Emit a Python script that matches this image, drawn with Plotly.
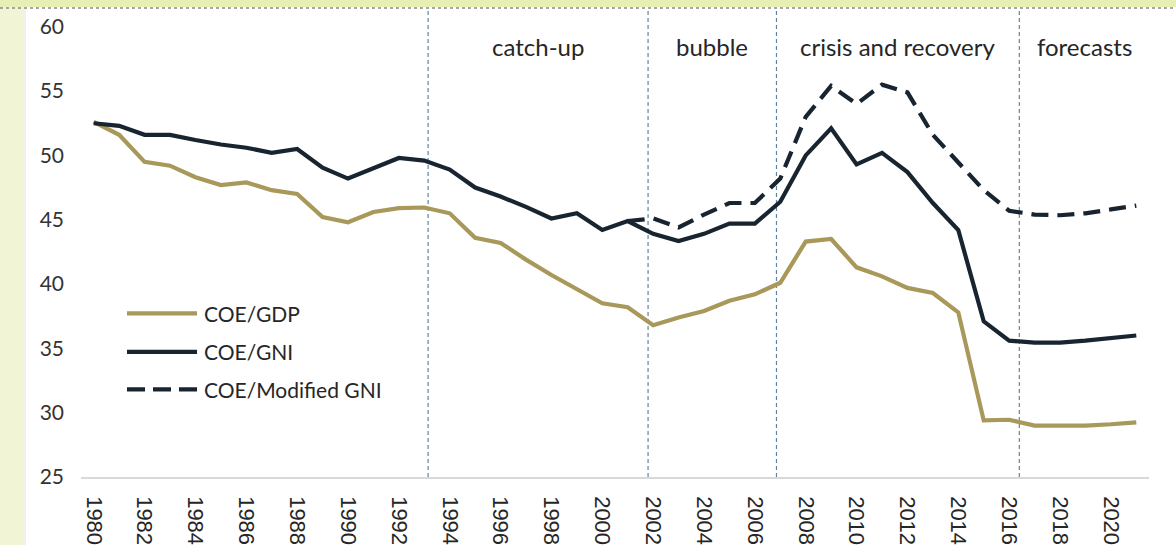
import plotly.graph_objects as go

# ---- data -------------------------------------------------------------
years = list(range(1980, 2022))

coe_gdp = [52.6, 51.6, 49.5, 49.2, 48.3, 47.7, 47.9, 47.3, 47.0, 45.2,
           44.8, 45.6, 45.9, 45.95, 45.5, 43.6, 43.2, 41.9, 40.7, 39.6,
           38.5, 38.2, 36.8, 37.4, 37.9, 38.7, 39.2, 40.1, 43.3, 43.5,
           41.3, 40.6, 39.7, 39.3, 37.8, 29.4, 29.45, 29.0, 29.0, 29.0,
           29.1, 29.25]

coe_gni = [52.5, 52.3, 51.6, 51.6, 51.2, 50.85, 50.6, 50.2, 50.5, 49.05,
           48.2, 49.0, 49.8, 49.6, 48.9, 47.5, 46.8, 46.0, 45.1, 45.5,
           44.2, 44.9, 43.9, 43.35, 43.9, 44.7, 44.7, 46.4, 50.0, 52.1,
           49.3, 50.2, 48.7, 46.3, 44.2, 37.1, 35.6, 35.45, 35.45, 35.6,
           35.8, 36.0]

years_mod = list(range(2001, 2022))
coe_mod_gni = [44.9, 45.1, 44.4, 45.4, 46.3, 46.3, 48.2, 53.0, 55.4, 54.0,
               55.5, 54.9, 51.6, 49.5, 47.3, 45.7, 45.4, 45.35, 45.5, 45.8,
               46.1]

series_names = ["COE/GDP", "COE/GNI", "COE/Modified GNI"]

period_bounds = [1993.15, 2001.8, 2006.85, 2016.4]
period_labels = ["catch-up", "bubble", "crisis and recovery", "forecasts"]

y_ticks = [25, 30, 35, 40, 45, 50, 55, 60]
x_ticks = list(range(1980, 2021, 2))

# ---- styling ----------------------------------------------------------
W, H = 1176, 553
M_L, M_R, M_T, M_B = 81, 27, 8, 69
X_RANGE = [1979.5, 2021.5]
Y_RANGE = [25, 61.46]

GDP_COLOR = "#a8985a"
GNI_COLOR = "#18242f"
PERIOD_COLOR = "#5f84a3"
LW = 4.2
DASH = "17px,9px"


def px_x(p):
    return (p - M_L) / (W - M_L - M_R)


def px_y(p):
    return (H - M_B - p) / (H - M_T - M_B)


fig = go.Figure()
fig.add_trace(go.Scatter(x=years, y=coe_gdp, mode="lines", name=series_names[0],
                         line=dict(color=GDP_COLOR, width=LW)))
fig.add_trace(go.Scatter(x=years, y=coe_gni, mode="lines", name=series_names[1],
                         line=dict(color=GNI_COLOR, width=LW)))
fig.add_trace(go.Scatter(x=years_mod, y=coe_mod_gni, mode="lines", name=series_names[2],
                         line=dict(color=GNI_COLOR, width=LW, dash=DASH)))

shapes = []
annotations = []

# period separators
for b in period_bounds:
    shapes.append(dict(type="line", xref="x", yref="y domain", x0=b, x1=b, y0=0, y1=1,
                       line=dict(color=PERIOD_COLOR, width=1.2, dash="4px,3px"), layer="below"))

# period titles centred between separators
edges = period_bounds + [X_RANGE[1]]
for i, lab in enumerate(period_labels):
    xc = (edges[i] + edges[i + 1]) / 2
    annotations.append(dict(x=xc, xref="x", y=px_y(47), yref="paper", text=lab,
                            showarrow=False, xanchor="center", yanchor="middle",
                            font=dict(family="Lato", size=24, color="#262626")))

# hand-placed legend
legend_rows = [318, 357, 395]
legend_styles = [dict(color=GDP_COLOR, width=LW), dict(color=GNI_COLOR, width=LW),
                 dict(color=GNI_COLOR, width=LW, dash="18px,8px")]
for name, row, st in zip(series_names, legend_rows, legend_styles):
    shapes.append(dict(type="line", xref="paper", yref="paper",
                       x0=px_x(127), x1=px_x(197), y0=px_y(row), y1=px_y(row), line=st))
    annotations.append(dict(x=px_x(202), xref="paper", y=px_y(row), yref="paper", text=name,
                            showarrow=False, xanchor="left", yanchor="middle",
                            font=dict(family="Lato", size=21, color="#262626")))

# page tint along the top and left edges, and the dotted rule under it
shapes.append(dict(type="rect", xref="paper", yref="paper", x0=px_x(0), x1=px_x(W),
                   y0=px_y(0), y1=px_y(7), fillcolor="#e8efb4", line=dict(width=0), layer="below"))
shapes.append(dict(type="rect", xref="paper", yref="paper", x0=px_x(0), x1=px_x(24),
                   y0=px_y(7), y1=px_y(H), fillcolor="#f1f5d6", line=dict(width=0), layer="below"))
shapes.append(dict(type="line", xref="paper", yref="paper", x0=px_x(25), x1=px_x(25),
                   y0=px_y(8), y1=px_y(H), line=dict(color="#e2e2e2", width=1)))
shapes.append(dict(type="line", xref="paper", yref="paper", x0=px_x(0), x1=px_x(W),
                   y0=px_y(8), y1=px_y(8), line=dict(color="#8a8a8a", width=1.5, dash="dot")))

fig.update_layout(
    width=W, height=H,
    margin=dict(l=M_L, r=M_R, t=M_T, b=M_B),
    paper_bgcolor="white", plot_bgcolor="white",
    showlegend=False,
    shapes=shapes, annotations=annotations,
    xaxis=dict(range=X_RANGE, tickvals=x_ticks, ticktext=[str(v) for v in x_ticks],
               tickangle=90, showgrid=False, zeroline=False,
               showline=True, linecolor="#d9d9d9", linewidth=1.5,
               ticks="", ticklabelstandoff=13,
               tickfont=dict(family="Liberation Sans", size=22, color="#262626")),
    yaxis=dict(range=Y_RANGE, tickvals=y_ticks, showgrid=False, zeroline=False,
               showline=False, ticks="", ticklabelstandoff=16,
               tickfont=dict(family="Lato", size=21, color="#333333")),
)

fig.write_html("out.html")
